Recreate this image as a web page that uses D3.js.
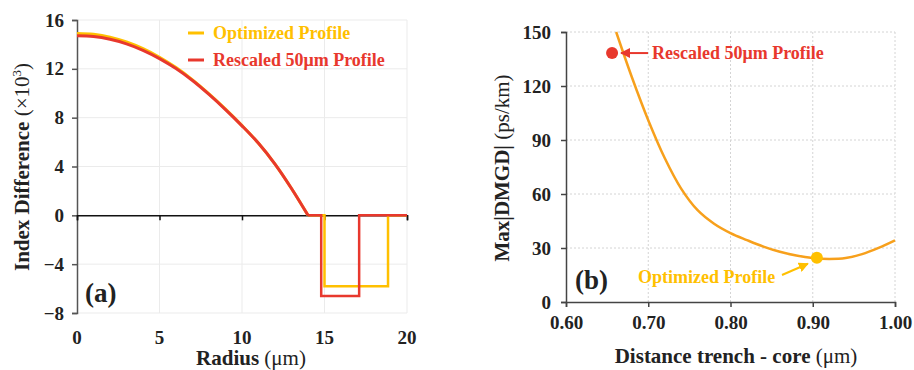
<!DOCTYPE html>
<html>
<head>
<meta charset="utf-8">
<script src="https://cdn.jsdelivr.net/npm/d3@7"></script>
<style>
body{margin:0;background:#fff}
svg{display:block;font-family:"Liberation Serif","Times New Roman",serif}
</style>
</head>
<body>
<svg id="chart" width="914" height="370"></svg>
<script>
// panel (a): index profile
let radius=[0,1,2,3,4,5,6,7,8,9,10,11,12,13,14]
let optCore=[14.9,14.83,14.6,14.2,13.65,12.95,12.1,11.1,9.95,8.7,7.35,5.9,4.2,2.2,0]
let resCore=[14.7,14.64,14.42,14.05,13.52,12.84,12.02,11.04,9.9,8.66,7.33,5.9,4.2,2.2,0]
let optTrenchR=[14,15,15,18.85,18.85,20]
let optTrenchV=[0,0,-5.8,-5.8,0,0]
let resTrenchR=[14,14.8,14.8,17.1,17.1,20]
let resTrenchV=[0,0,-6.6,-6.6,0,0]
let aXTicks=[0,5,10,15,20]
let aYTicks=[-8,-4,0,4,8,12,16]

// panel (b): max |DMGD| vs trench distance
let dist=[0.661,0.68,0.70,0.72,0.74,0.76,0.78,0.80,0.82,0.84,0.86,0.88,0.90,0.92,0.94,0.96,0.98,1.00]
let dmgd=[150,125,101,80,63,51,43.5,38.3,34.4,30.8,27.9,25.8,24.4,23.9,24.4,26.6,30.1,34.3]
let resPoint=[0.656,138.3]
let optPoint=[0.905,24.6]
let bXTicks=[0.6,0.7,0.8,0.9,1.0]
let bYTicks=[0,30,60,90,120,150]

let gold="#ffc000", red="#e8382d", orange="#f7a01c"
let svg=d3.select("#chart")

// ---------- panel a ----------
let xa=d3.scaleLinear().domain([0,20]).range([77,407])
let ya=d3.scaleLinear().domain([-8,16]).range([313,20])
let ga=svg.append("g")

aXTicks.slice(1).forEach(t=>{
ga.append("line").attr("x1",xa(t)).attr("x2",xa(t)).attr("y1",ya(16)).attr("y2",ya(-8))
.attr("stroke","#ebebeb").attr("stroke-width",1)
})
aYTicks.forEach(t=>{
ga.append("line").attr("x1",xa(0)).attr("x2",xa(20)).attr("y1",ya(t)).attr("y2",ya(t))
.attr("stroke","#ebebeb").attr("stroke-width",1)
})

ga.append("g").attr("transform","translate("+xa(0)+",0)")
.call(d3.axisLeft(ya).tickValues(aYTicks).tickSize(5).tickFormat(d3.format("d")))
.call(g=>{
g.select(".domain").attr("stroke","#555").attr("stroke-width",1.5)
g.selectAll(".tick line").attr("stroke","#555").attr("stroke-width",1.5)
g.selectAll(".tick text").attr("x",-13).attr("font-size",19).attr("font-weight","bold")
.attr("font-family","Liberation Serif").attr("fill","#222")
})

ga.append("g").attr("transform","translate(0,"+ya(0)+")")
.call(d3.axisBottom(xa).tickValues(aXTicks).tickSize(5).tickFormat(""))
.call(g=>{
g.select(".domain").attr("stroke","#111").attr("stroke-width",1.5)
g.selectAll(".tick line").attr("stroke","#111").attr("stroke-width",1.5)
})
aXTicks.forEach(t=>{
ga.append("text").attr("x",xa(t)).attr("y",344).attr("text-anchor","middle")
.attr("font-size",19).attr("font-weight","bold").attr("fill","#222").text(t)
})

let lineA=d3.line().x(d=>xa(d[0])).y(d=>ya(d[1]))
let coreLine=d3.line().x(d=>xa(d[0])).y(d=>ya(d[1])).curve(d3.curveCatmullRom.alpha(0.5))

ga.append("path").datum(d3.zip(radius,optCore)).attr("d",coreLine)
.attr("fill","none").attr("stroke",gold).attr("stroke-width",3)
ga.append("path").datum(d3.zip(optTrenchR,optTrenchV)).attr("d",lineA)
.attr("fill","none").attr("stroke",gold).attr("stroke-width",2.5)
ga.append("path").datum(d3.zip(radius,resCore)).attr("d",coreLine)
.attr("fill","none").attr("stroke",red).attr("stroke-width",3)
ga.append("path").datum(d3.zip(resTrenchR,resTrenchV)).attr("d",lineA)
.attr("fill","none").attr("stroke",red).attr("stroke-width",2.5)

// legend
let legend=[["Optimized Profile",gold,33],["Rescaled 50μm Profile",red,60]]
legend.forEach(([name,col,y])=>{
ga.append("line").attr("x1",188).attr("x2",204).attr("y1",y).attr("y2",y)
.attr("stroke",col).attr("stroke-width",3)
ga.append("text").attr("x",213).attr("y",y+6).attr("font-size",18).attr("font-weight","bold")
.attr("fill",col).text(name)
})

ga.append("text").attr("x",85).attr("y",302).attr("font-size",27).attr("font-weight","bold")
.attr("fill","#222").text("(a)")

let ta=ga.append("text").attr("x",251).attr("y",365).attr("text-anchor","middle").attr("font-size",21).attr("fill","#222")
ta.append("tspan").attr("font-weight","bold").text("Radius ")
ta.append("tspan").text("(μm)")

let tya=ga.append("text").attr("transform","translate(29,167) rotate(-90)").attr("text-anchor","middle")
.attr("font-size",21).attr("fill","#222")
tya.append("tspan").attr("font-weight","bold").text("Index Difference ")
tya.append("tspan").text("(×10")
tya.append("tspan").attr("font-size",13).attr("dy",-8).text("3")
tya.append("tspan").attr("dy",8).text(")")

// ---------- panel b ----------
let xb=d3.scaleLinear().domain([0.6,1.0]).range([566,895])
let yb=d3.scaleLinear().domain([0,150]).range([302,32])
let gb=svg.append("g")

bXTicks.slice(1).forEach(t=>{
gb.append("line").attr("x1",xb(t)).attr("x2",xb(t)).attr("y1",yb(150)).attr("y2",yb(0))
.attr("stroke","#d4d4d4").attr("stroke-width",1).attr("stroke-dasharray","2,2")
})
bYTicks.slice(1).forEach(t=>{
gb.append("line").attr("x1",xb(0.6)).attr("x2",xb(1.0)).attr("y1",yb(t)).attr("y2",yb(t))
.attr("stroke","#d4d4d4").attr("stroke-width",1).attr("stroke-dasharray","2,2")
})

gb.append("g").attr("transform","translate("+xb(0.6)+",0)")
.call(d3.axisLeft(yb).tickValues(bYTicks).tickSize(5).tickFormat(d3.format("d")))
.call(g=>{
g.select(".domain").attr("stroke","#444").attr("stroke-width",1.5)
g.selectAll(".tick line").attr("stroke","#444").attr("stroke-width",1.5)
g.selectAll(".tick text").attr("x",-15).attr("font-size",19).attr("font-weight","bold")
.attr("font-family","Liberation Serif").attr("fill","#222")
})
gb.append("g").attr("transform","translate(0,"+yb(0)+")")
.call(d3.axisBottom(xb).tickValues(bXTicks).tickSize(5).tickFormat(d3.format(".2f")))
.call(g=>{
g.select(".domain").attr("stroke","#444").attr("stroke-width",1.5)
g.selectAll(".tick line").attr("stroke","#444").attr("stroke-width",1.5)
g.selectAll(".tick text").attr("y",14).attr("font-size",19).attr("font-weight","bold")
.attr("font-family","Liberation Serif").attr("fill","#222")
})

let lineB=d3.line().x(d=>xb(d[0])).y(d=>yb(d[1])).curve(d3.curveCatmullRom.alpha(0.5))
gb.append("path").datum(d3.zip(dist,dmgd)).attr("d",lineB)
.attr("fill","none").attr("stroke",orange).attr("stroke-width",2.5)

gb.append("circle").attr("cx",xb(resPoint[0])).attr("cy",yb(resPoint[1])).attr("r",6).attr("fill",red)
gb.append("circle").attr("cx",xb(optPoint[0])).attr("cy",yb(optPoint[1])).attr("r",6).attr("fill",gold)

let defs=svg.append("defs")
;[["arRed",red],["arGold",gold]].forEach(([id,col])=>{
defs.append("marker").attr("id",id).attr("viewBox","0 0 10 10").attr("refX",9).attr("refY",5)
.attr("markerWidth",5).attr("markerHeight",5).attr("orient","auto")
.append("path").attr("d","M0,0L10,5L0,10z").attr("fill",col)
})

gb.append("line").attr("x1",648).attr("x2",xb(resPoint[0])+9).attr("y1",yb(resPoint[1])).attr("y2",yb(resPoint[1]))
.attr("stroke",red).attr("stroke-width",2).attr("marker-end","url(#arRed)")
gb.append("text").attr("x",652).attr("y",yb(resPoint[1])+6).attr("font-size",18).attr("font-weight","bold")
.attr("fill",red).text("Rescaled 50μm Profile")

gb.append("line").attr("x1",782).attr("y1",275).attr("x2",xb(optPoint[0])-9).attr("y2",yb(optPoint[1])+6)
.attr("stroke",gold).attr("stroke-width",2).attr("marker-end","url(#arGold)")
gb.append("text").attr("x",638).attr("y",283).attr("font-size",18).attr("font-weight","bold")
.attr("fill",gold).text("Optimized Profile")

gb.append("text").attr("x",575).attr("y",289).attr("font-size",27).attr("font-weight","bold")
.attr("fill","#222").text("(b)")

let tb=gb.append("text").attr("x",736).attr("y",363).attr("text-anchor","middle").attr("font-size",21).attr("fill","#222")
tb.append("tspan").attr("font-weight","bold").text("Distance trench - core ")
tb.append("tspan").text("(μm)")

let tyb=gb.append("text").attr("transform","translate(509,168) rotate(-90)").attr("text-anchor","middle")
.attr("font-size",21).attr("fill","#222")
tyb.append("tspan").attr("font-weight","bold").text("Max|DMGD| ")
tyb.append("tspan").text("(ps/km)")
</script>
</body>
</html>
